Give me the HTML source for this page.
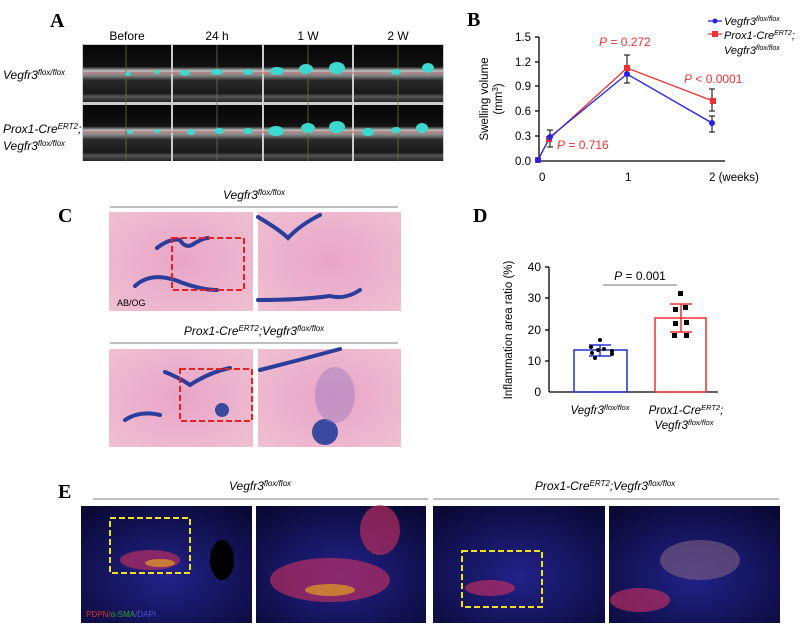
<!DOCTYPE html>
<html><head><meta charset="utf-8"><style>
body{margin:0;background:#fff;}
svg{display:block;font-family:"Liberation Sans",sans-serif;}
</style></head><body>
<svg width="809" height="634" viewBox="0 0 809 634" xmlns="http://www.w3.org/2000/svg">
<defs>
<linearGradient id="us" x1="0" y1="0" x2="0" y2="1">
<stop offset="0" stop-color="#050505"/><stop offset="0.38" stop-color="#111"/>
<stop offset="0.45" stop-color="#bbb"/><stop offset="0.55" stop-color="#777"/>
<stop offset="0.62" stop-color="#2a2a2a"/><stop offset="0.85" stop-color="#1a1a1a"/>
<stop offset="0.9" stop-color="#555"/><stop offset="1" stop-color="#222"/>
</linearGradient>
<radialGradient id="pk" cx="0.5" cy="0.5" r="0.7">
<stop offset="0" stop-color="#e8a4c8"/><stop offset="1" stop-color="#efc0d0"/>
</radialGradient>
<radialGradient id="fl" cx="0.5" cy="0.6" r="0.7">
<stop offset="0" stop-color="#22228a"/><stop offset="1" stop-color="#0a0a38"/>
</radialGradient>
</defs>

<g font-family="Liberation Serif" font-weight="bold" font-size="20">
<text x="50" y="27">A</text><text x="467" y="26">B</text>
<text x="58" y="222">C</text><text x="473" y="222">D</text>
<text x="58" y="498">E</text>
</g>

<g font-size="12" text-anchor="middle">
<text x="127" y="40">Before</text><text x="217" y="40">24 h</text>
<text x="308" y="40">1 W</text><text x="398" y="40">2 W</text>
</g>
<rect x="82" y="44" width="362" height="117" fill="#ccc"/>
<g fill="url(#us)">
<rect x="83" y="45" width="88" height="57"/><rect x="173" y="45" width="89" height="57"/>
<rect x="264" y="45" width="88" height="57"/><rect x="354" y="45" width="89" height="57"/>
<rect x="83" y="105" width="88" height="56"/><rect x="173" y="105" width="89" height="56"/>
<rect x="264" y="105" width="88" height="56"/><rect x="354" y="105" width="89" height="56"/>
</g>
<g stroke="#c55" stroke-width="0.8"><line x1="83" y1="73" x2="443" y2="73"/><line x1="83" y1="132" x2="443" y2="132"/></g>
<g stroke="#6a7a20" stroke-width="0.8">
<line x1="126" y1="45" x2="126" y2="161"/><line x1="217" y1="45" x2="217" y2="161"/>
<line x1="308" y1="45" x2="308" y2="161"/><line x1="398" y1="45" x2="398" y2="161"/></g>
<g fill="#3fd8d0">
<ellipse cx="128" cy="74" rx="3" ry="2"/><ellipse cx="157" cy="72" rx="3" ry="2"/>
<ellipse cx="185" cy="73" rx="5" ry="3"/><ellipse cx="217" cy="72" rx="6" ry="3"/><ellipse cx="248" cy="72" rx="5" ry="3"/>
<ellipse cx="277" cy="71" rx="7" ry="4"/><ellipse cx="306" cy="69" rx="7" ry="5"/><ellipse cx="337" cy="68" rx="8" ry="6"/>
<ellipse cx="396" cy="72" rx="5" ry="3"/><ellipse cx="428" cy="68" rx="6" ry="5"/>
<ellipse cx="130" cy="132" rx="3" ry="2"/><ellipse cx="157" cy="131" rx="3" ry="2"/>
<ellipse cx="191" cy="132" rx="4" ry="3"/><ellipse cx="219" cy="131" rx="5" ry="3"/><ellipse cx="248" cy="131" rx="5" ry="3"/>
<ellipse cx="276" cy="131" rx="8" ry="5"/><ellipse cx="308" cy="128" rx="7" ry="5"/><ellipse cx="337" cy="127" rx="8" ry="6"/>
<ellipse cx="368" cy="132" rx="6" ry="4"/><ellipse cx="396" cy="130" rx="5" ry="3"/><ellipse cx="422" cy="128" rx="6" ry="5"/>
</g>
<g font-size="12" font-style="italic">
<text x="3" y="79">Vegfr3<tspan font-size="8" dy="-4">flox/flox</tspan></text>
<text x="3" y="133">Prox1-Cre<tspan font-size="8" dy="-4">ERT2</tspan><tspan dy="4">;</tspan></text>
<text x="3" y="150">Vegfr3<tspan font-size="8" dy="-4">flox/flox</tspan></text>
</g>

<g stroke="#000" stroke-width="1.3" fill="none">
<line x1="539" y1="37" x2="539" y2="161"/><line x1="539" y1="161" x2="725" y2="161"/>
<line x1="535" y1="37" x2="539" y2="37"/><line x1="535" y1="62" x2="539" y2="62"/>
<line x1="535" y1="86" x2="539" y2="86"/><line x1="535" y1="111" x2="539" y2="111"/>
<line x1="535" y1="136" x2="539" y2="136"/>
</g>
<g font-size="11.5" text-anchor="end">
<text x="531" y="41">1.5</text><text x="531" y="66">1.2</text><text x="531" y="90">0.9</text>
<text x="531" y="115">0.6</text><text x="531" y="140">0.3</text><text x="531" y="165">0.0</text>
</g>
<g font-size="11.5"><text x="539" y="181">0</text><text x="625" y="181">1</text><text x="709" y="181">2 (weeks)</text></g>
<text transform="translate(488,99) rotate(-90)" font-size="11.5" text-anchor="middle">Swelling volume</text>
<text transform="translate(502,99) rotate(-90)" font-size="11.5" text-anchor="middle">(mm<tspan font-size="8" dy="-4">3</tspan><tspan dy="4">)</tspan></text>
<g stroke="#000" stroke-width="1">
<line x1="550" y1="130" x2="550" y2="147"/><line x1="547" y1="130" x2="553" y2="130"/><line x1="547" y1="147" x2="553" y2="147"/>
<line x1="627" y1="55" x2="627" y2="83"/><line x1="624" y1="55" x2="630" y2="55"/><line x1="624" y1="83" x2="630" y2="83"/>
<line x1="712" y1="89" x2="712" y2="111"/><line x1="709" y1="89" x2="715" y2="89"/><line x1="709" y1="111" x2="715" y2="111"/>
<line x1="712" y1="116" x2="712" y2="132"/><line x1="709" y1="116" x2="715" y2="116"/><line x1="709" y1="132" x2="715" y2="132"/>
</g>
<polyline points="538,160 549,139 627,68 713,101" fill="none" stroke="#f03030" stroke-width="1.3"/>
<polyline points="538,160 550,137 627,74 712,123" fill="none" stroke="#2020f0" stroke-width="1.3"/>
<g fill="#f03030"><rect x="535" y="157" width="6" height="6"/><rect x="546" y="136" width="6" height="6"/><rect x="624" y="65" width="6" height="6"/><rect x="710" y="98" width="6" height="6"/></g>
<g fill="#2020f0"><circle cx="538" cy="160" r="3"/><circle cx="550" cy="137" r="3"/><circle cx="627" cy="74" r="3"/><circle cx="712" cy="123" r="3"/></g>
<g font-size="12" fill="#f03030">
<text x="599" y="46"><tspan font-style="italic">P</tspan> = 0.272</text>
<text x="684" y="83"><tspan font-style="italic">P</tspan> &lt; 0.0001</text>
<text x="557" y="149"><tspan font-style="italic">P</tspan> = 0.716</text>
</g>
<line x1="708" y1="21" x2="722" y2="21" stroke="#2020f0" stroke-width="1.3"/><circle cx="715" cy="21" r="2.5" fill="#2020f0"/>
<line x1="708" y1="34" x2="722" y2="34" stroke="#f03030" stroke-width="1.3"/><rect x="712" y="31" width="6" height="6" fill="#f03030"/>
<g font-size="11" font-style="italic">
<text x="724" y="25">Vegfr3<tspan font-size="7" dy="-4">flox/flox</tspan></text>
<text x="724" y="39">Prox1-Cre<tspan font-size="7" dy="-4">ERT2</tspan><tspan dy="4">;</tspan></text>
<text x="724" y="54">Vegfr3<tspan font-size="7" dy="-4">flox/flox</tspan></text>
</g>

<g font-size="12" font-style="italic" text-anchor="middle">
<text x="254" y="199">Vegfr3<tspan font-size="8" dy="-4">flox/flox</tspan></text>
<text x="254" y="335">Prox1-Cre<tspan font-size="8" dy="-4">ERT2</tspan><tspan dy="4">;Vegfr3</tspan><tspan font-size="8" dy="-4">flox/flox</tspan></text>
</g>
<g stroke="#999" stroke-width="1.2"><line x1="110" y1="207" x2="398" y2="207"/><line x1="110" y1="343" x2="398" y2="343"/></g>
<g fill="url(#pk)">
<rect x="109" y="212" width="144" height="99"/><rect x="258" y="212" width="143" height="99"/>
<rect x="109" y="349" width="144" height="98"/><rect x="258" y="349" width="143" height="98"/>
</g>
<g fill="none" stroke="#2a3d9a" stroke-width="4" stroke-linecap="round">
<path d="M157,248 Q170,238 180,240 Q186,250 195,243 Q204,238 208,238"/>
<path d="M135,286 Q150,272 175,280 Q200,290 217,290"/>
<path d="M258,217 Q280,230 288,238 Q300,225 320,215"/>
<path d="M258,300 Q300,300 330,296 Q345,300 360,290"/>
<path d="M165,372 Q180,378 190,385 Q210,372 230,368"/>
<path d="M125,420 Q140,410 160,415"/>
<path d="M260,370 Q300,360 340,349"/>
</g>
<circle cx="222" cy="410" r="7" fill="#3a4aa0"/><circle cx="325" cy="432" r="13" fill="#3a4aa0"/>
<ellipse cx="335" cy="395" rx="20" ry="28" fill="#a07ec0" opacity="0.5"/>
<g fill="none" stroke="#e82020" stroke-width="2" stroke-dasharray="6,3">
<rect x="172" y="238" width="72" height="52"/><rect x="180" y="369" width="72" height="52"/></g>
<text x="117" y="306" font-size="9">AB/OG</text>

<g stroke="#000" stroke-width="1.3">
<line x1="549" y1="267" x2="549" y2="392"/><line x1="549" y1="392" x2="718" y2="392"/>
<line x1="545" y1="267" x2="549" y2="267"/><line x1="545" y1="298" x2="549" y2="298"/>
<line x1="545" y1="330" x2="549" y2="330"/><line x1="545" y1="361" x2="549" y2="361"/>
</g>
<g font-size="12" text-anchor="end">
<text x="541" y="271">40</text><text x="541" y="302">30</text><text x="541" y="334">20</text>
<text x="541" y="365">10</text><text x="541" y="396">0</text>
</g>
<text transform="translate(512,330) rotate(-90)" font-size="11.5" text-anchor="middle">Inflammation area ratio (%)</text>
<rect x="574" y="350" width="53" height="42" fill="none" stroke="#2030d0" stroke-width="1.5"/>
<rect x="655" y="318" width="51" height="74" fill="none" stroke="#f03030" stroke-width="1.5"/>
<g stroke="#2030d0" stroke-width="1.5"><line x1="600" y1="345" x2="600" y2="356"/><line x1="589" y1="345" x2="611" y2="345"/><line x1="589" y1="356" x2="611" y2="356"/></g>
<g stroke="#f03030" stroke-width="1.5"><line x1="681" y1="304" x2="681" y2="332"/><line x1="670" y1="304" x2="692" y2="304"/><line x1="670" y1="332" x2="692" y2="332"/></g>
<g fill="#000"><circle cx="600" cy="340" r="2"/><circle cx="591" cy="347" r="2"/><circle cx="598" cy="350" r="2"/><circle cx="604" cy="349" r="2"/><circle cx="612" cy="351" r="2"/><circle cx="592" cy="353" r="2"/><circle cx="612" cy="354" r="2"/><circle cx="595" cy="358" r="2"/>
<rect x="678" y="291" width="5" height="5"/><rect x="673" y="307" width="5" height="5"/><rect x="683" y="305" width="5" height="5"/><rect x="673" y="321" width="5" height="5"/><rect x="684" y="320" width="5" height="5"/><rect x="672" y="333" width="5" height="5"/><rect x="684" y="333" width="5" height="5"/></g>
<line x1="603" y1="285" x2="677" y2="285" stroke="#777" stroke-width="1"/>
<text x="640" y="280" font-size="12" text-anchor="middle"><tspan font-style="italic">P</tspan> = 0.001</text>
<g font-size="11.5" font-style="italic" text-anchor="middle">
<text x="600" y="414">Vegfr3<tspan font-size="7.5" dy="-4">flox/flox</tspan></text>
<text x="686" y="414">Prox1-Cre<tspan font-size="7.5" dy="-4">ERT2</tspan><tspan dy="4">;</tspan></text>
<text x="684" y="429">Vegfr3<tspan font-size="7.5" dy="-4">flox/flox</tspan></text>
</g>

<g font-size="12" font-style="italic" text-anchor="middle">
<text x="260" y="490">Vegfr3<tspan font-size="8" dy="-4">flox/flox</tspan></text>
<text x="605" y="490">Prox1-Cre<tspan font-size="8" dy="-4">ERT2</tspan><tspan dy="4">;Vegfr3</tspan><tspan font-size="8" dy="-4">flox/flox</tspan></text>
</g>
<g stroke="#999" stroke-width="1.2"><line x1="93" y1="499" x2="428" y2="499"/><line x1="433" y1="499" x2="779" y2="499"/></g>
<g fill="url(#fl)">
<rect x="81" y="506" width="171" height="117"/><rect x="256" y="506" width="170" height="117"/>
<rect x="433" y="506" width="172" height="117"/><rect x="609" y="506" width="171" height="117"/>
</g>
<g fill="#d03060" opacity="0.6">
<ellipse cx="150" cy="560" rx="30" ry="10"/><ellipse cx="330" cy="580" rx="60" ry="22"/>
<ellipse cx="380" cy="530" rx="20" ry="25"/><ellipse cx="490" cy="588" rx="25" ry="8"/>
<ellipse cx="640" cy="600" rx="30" ry="12"/><ellipse cx="700" cy="560" rx="40" ry="20" fill="#806080"/>
</g>
<g fill="#e0a020" opacity="0.7"><ellipse cx="330" cy="590" rx="25" ry="6"/><ellipse cx="160" cy="563" rx="15" ry="4"/></g>
<ellipse cx="222" cy="560" rx="12" ry="20" fill="#000"/>
<g fill="none" stroke="#f0e020" stroke-width="2" stroke-dasharray="6,3">
<rect x="110" y="518" width="80" height="55"/><rect x="462" y="551" width="80" height="56"/></g>
<text x="86" y="617" font-size="8" fill="#e03030">PDPN/<tspan fill="#30a030">α-SMA</tspan><tspan fill="#5050e0">/DAPI</tspan></text>
</svg>
</body></html>
